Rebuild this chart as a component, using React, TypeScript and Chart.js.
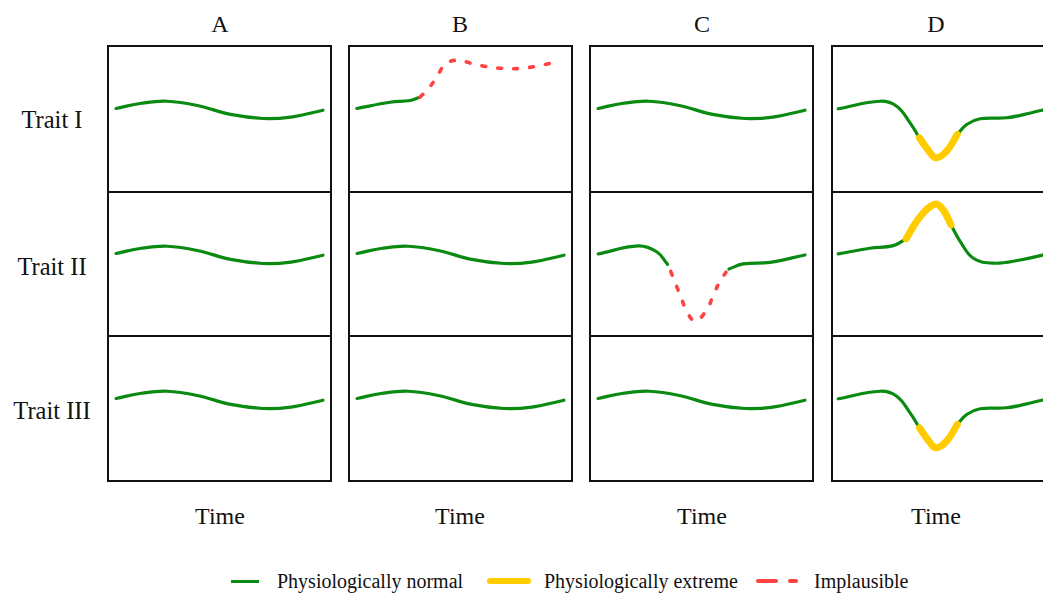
import React, { useEffect, useRef } from "react";
import { Chart, registerables } from "chart.js";

Chart.register(...registerables);

// ---------- data ----------
const columnLabels = ["A", "B", "C", "D"];
const traitLabels = ["Trait I", "Trait II", "Trait III"];
const xAxisLabel = "Time";
const legendLabels = ["Physiologically normal", "Physiologically extreme", "Implausible"];

// [time, value] on a 0–100 / 0–100 panel scale
const normalCurve: number[][] = [
  [3.6, 56.9], [15, 60.5], [26.5, 61.9], [40, 59.0], [55, 52.8], [69.5, 50.0], [82, 51.0], [96.4, 55.7],
];

const bTraitINormal: number[][] = [[3.5, 56.9], [18.4, 61.2], [27.4, 62.4], [31.8, 64.7]];
const bTraitIImplausible: number[][] = [
  [31.8, 64.7], [35, 69.5], [39.3, 78.3], [43, 87.2], [48.3, 90.2], [55.6, 87.7], [63.2, 85.4],
  [70, 84.5], [76.7, 84.5], [84.2, 86.1], [92, 88.6],
];

const cTraitIINormalBefore: number[][] = [[3.7, 56.6], [21.7, 62.1], [29.9, 58.1], [34.8, 49.4]];
const cTraitIIImplausible: number[][] = [
  [36.2, 44.5], [37.4, 39.8], [40.4, 28.3], [43.4, 17.2], [47.1, 10.3], [52.3, 17.9], [55.3, 28.3], [58.6, 38.6], [61, 44],
];
const cTraitIINormalAfter: number[][] = [[62.3, 46.2], [68.7, 49.7], [80.7, 50.8], [96.4, 55.9]];

const dDipNormalBefore: number[][] = [[2.8, 56.7], [21.5, 61.9], [29, 58.5], [35, 47], [39.2, 36.7]];
const dDipExtreme: number[][] = [[39.2, 36.7], [43, 28.5], [46.6, 22.9], [51.4, 27.5], [56.2, 39]];
const dDipNormalAfter: number[][] = [[56.2, 39], [60.4, 45.9], [66.4, 49.8], [78.3, 50.5], [90.3, 54.3], [96.4, 56.5]];

const dPeakNormalBefore: number[][] = [[2.8, 56.6], [17, 60.5], [27.5, 62.3], [33.2, 67]];
const dPeakExtreme: number[][] = [[33.2, 67], [39.5, 82.3], [46.2, 91], [49.9, 86.9], [53.4, 76.6]];
const dPeakNormalAfter: number[][] = [[53.4, 76.6], [57.4, 65.4], [63.4, 53.6], [72.3, 50.2], [84.3, 52.4], [96.4, 56.5]];

// ---------- styles ----------
const GREEN = "#0b8a12";
const YELLOW = "#ffcc00";
const RED = "#ff4242";
const FONT = "'Liberation Serif', 'Times New Roman', serif";

type Kind = "normal" | "extreme" | "implausible";
type Seg = { kind: Kind; pts: number[][] };

const N = (pts: number[][]): Seg => ({ kind: "normal", pts });
const E = (pts: number[][]): Seg => ({ kind: "extreme", pts });
const I = (pts: number[][]): Seg => ({ kind: "implausible", pts });

// panels[row][col]
const panels: Seg[][][] = [
  [[N(normalCurve)], [N(bTraitINormal), I(bTraitIImplausible)], [N(normalCurve)], [N(dDipNormalBefore), E(dDipExtreme), N(dDipNormalAfter)]],
  [[N(normalCurve)], [N(normalCurve)], [N(cTraitIINormalBefore), I(cTraitIIImplausible), N(cTraitIINormalAfter)], [N(dPeakNormalBefore), E(dPeakExtreme), N(dPeakNormalAfter)]],
  [[N(normalCurve)], [N(normalCurve)], [N(normalCurve)], [N(dDipNormalBefore), E(dDipExtreme), N(dDipNormalAfter)]],
];

const colLeft = [108, 349, 590, 832];
const colLabelX = [220, 460, 702, 936];
const panelW = 223;
const rowTop = [46, 191, 336];
const panelH = 145;
const rowLabelY = [120, 267, 411];

function segDataset(s: Seg) {
  const base: any = {
    data: s.pts.map(([x, y]) => ({ x, y })),
    pointRadius: 0,
    fill: false,
    tension: 0.4,
    borderCapStyle: "round",
    borderJoinStyle: "round",
  };
  if (s.kind === "normal") return { ...base, borderColor: GREEN, borderWidth: 3.2, order: 2 };
  if (s.kind === "extreme") return { ...base, borderColor: YELLOW, borderWidth: 7, order: 1 };
  return { ...base, borderColor: RED, borderWidth: 3.6, borderDash: [4, 12], order: 1 };
}

function Panel({ segs, left, top }: { segs: Seg[]; left: number; top: number }) {
  const ref = useRef<HTMLCanvasElement | null>(null);
  useEffect(() => {
    if (!ref.current) return;
    const chart = new Chart(ref.current, {
      type: "line",
      data: { datasets: segs.map(segDataset) },
      options: {
        animation: false,
        responsive: true,
        maintainAspectRatio: false,
        events: [],
        layout: { padding: 0 },
        scales: {
          x: { type: "linear", min: 0, max: 100, display: false },
          y: { type: "linear", min: 0, max: 100, display: false },
        },
        plugins: { legend: { display: false }, tooltip: { enabled: false } },
      } as any,
    });
    return () => chart.destroy();
  }, [segs]);
  return (
    <div style={{ position: "absolute", left, top, width: panelW, height: panelH }}>
      <canvas ref={ref} />
    </div>
  );
}

const textBox = (cx: number, cy: number, size: number, w = 200): React.CSSProperties => ({
  position: "absolute",
  left: cx - w / 2,
  top: cy - 15,
  width: w,
  height: 30,
  lineHeight: "30px",
  textAlign: "center",
  fontSize: size,
  fontFamily: FONT,
  color: "#111",
  whiteSpace: "nowrap",
});

export default function App() {
  return (
    <div
      style={{
        position: "fixed",
        left: 0,
        top: 0,
        width: 1043,
        height: 593,
        overflow: "hidden",
        background: "#fff",
        fontFamily: FONT,
      }}
    >
      {panels.map((row, r) =>
        row.map((segs, c) => <Panel key={`${r}-${c}`} segs={segs} left={colLeft[c]} top={rowTop[r]} />)
      )}

      {/* panel frames */}
      {colLeft.map((l, c) => (
        <div
          key={`frame${c}`}
          style={{
            position: "absolute",
            left: l - 1,
            top: 45,
            width: panelW + 2,
            height: 437,
            border: "2px solid #111",
            boxSizing: "border-box",
            pointerEvents: "none",
          }}
        />
      ))}
      {colLeft.map((l, c) =>
        [190.5, 335].map((y, i) => (
          <div
            key={`sep${c}-${i}`}
            style={{ position: "absolute", left: l - 1, top: y, width: panelW + 2, height: 2, background: "#111" }}
          />
        ))
      )}

      {columnLabels.map((t, c) => (
        <div key={`cl${c}`} style={textBox(colLabelX[c], 24, 24, 60)}>{t}</div>
      ))}
      {colLabelX.map((x, c) => (
        <div key={`tl${c}`} style={textBox(x, 516, 24, 100)}>{xAxisLabel}</div>
      ))}
      {traitLabels.map((t, r) => (
        <div key={`rl${r}`} style={textBox(52, rowLabelY[r], 24.5, 104)}>{t}</div>
      ))}

      {/* legend */}
      <div style={{ position: "absolute", left: 231, top: 579.5, width: 28, height: 3.2, background: GREEN }} />
      <div style={{ ...textBox(0, 581, 20, 0), left: 277, width: "auto", textAlign: "left" }}>{legendLabels[0]}</div>
      <div style={{ position: "absolute", left: 487, top: 577.5, width: 44, height: 6.5, borderRadius: 4, background: YELLOW }} />
      <div style={{ ...textBox(0, 581, 20, 0), left: 544, width: "auto", textAlign: "left" }}>{legendLabels[1]}</div>
      <div style={{ position: "absolute", left: 756, top: 579, width: 22, height: 4, borderRadius: 2, background: RED }} />
      <div style={{ position: "absolute", left: 788, top: 579, width: 10, height: 4, borderRadius: 2, background: RED }} />
      <div style={{ ...textBox(0, 581, 20, 0), left: 814, width: "auto", textAlign: "left" }}>{legendLabels[2]}</div>
    </div>
  );
}
